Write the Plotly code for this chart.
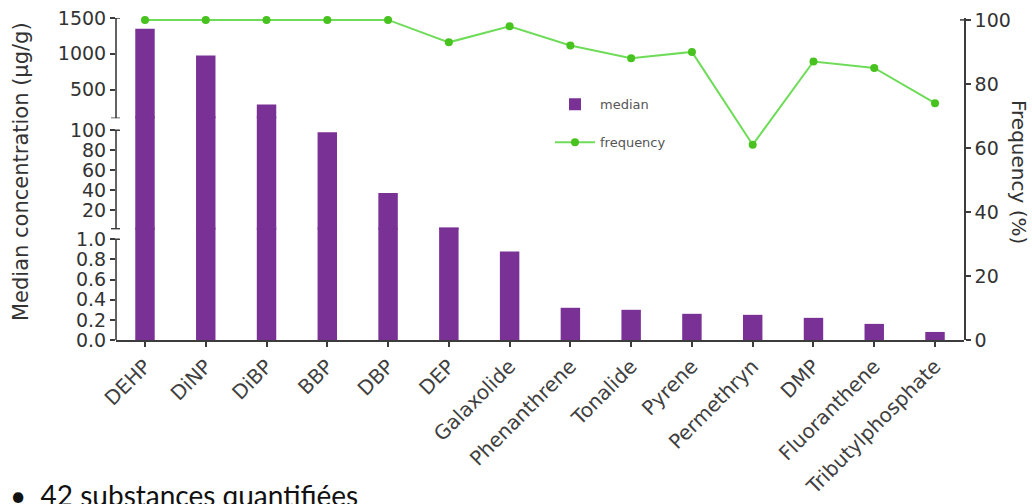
import plotly.graph_objects as go

# ---- data ----
categories = ["DEHP", "DiNP", "DiBP", "BBP", "DBP", "DEP", "Galaxolide",
              "Phenanthrene", "Tonalide", "Pyrene", "Permethryn", "DMP",
              "Fluoranthene", "Tributylphosphate"]
median = [1350, 975, 290, 98, 37, 2.3, 0.88, 0.32, 0.30, 0.26, 0.25, 0.22, 0.16, 0.08]
frequency = [100, 100, 100, 100, 100, 93, 98, 92, 88, 90, 61, 87, 85, 74]

top_ticks = [500, 1000, 1500]
mid_ticks = [20, 40, 60, 80, 100]
low_ticks = [0.0, 0.2, 0.4, 0.6, 0.8, 1.0]
freq_ticks = [0, 20, 40, 60, 80, 100]

# segment bounds of the broken axis
seg_low = (0, 1.0)
seg_mid = (1, 100)
seg_top = (100, 1500)

# ---- layout geometry (pixels) ----
W, H = 1032, 504
PL, PR, PT, PB = 116, 964, 17.5, 340.5
PH = PB - PT
PW = PR - PL

def py(p):
    return (PB - p) / PH

def px(p):
    return (p - PL) / PW

# low segment: 0 -> 340.5px, 1.0 -> 239.5px ; overlaps 2px into the middle one
low_top_px = 228
low_range_top = (PB - low_top_px) / 101.0
# middle segment: 0 -> 230px, 1 px per unit ; overlaps 2px into the top one
mid_bot_px, mid_top_px = 230, 116
mid_range_top = 230 - mid_top_px
# top segment: 100 -> 118px, 1500 -> 17.5px
top_bot_px = 118

PURPLE = "#7A3196"
GREEN_LINE = "#6EDC58"
GREEN_MARK = "#47C21F"
AX = "#3c3c3c"
TXT = "#333333"
FONT = "DejaVu Sans"

fig = go.Figure()

fig.add_trace(go.Bar(x=categories, y=median, name="median", marker_color=PURPLE,
                     width=0.32, yaxis="y", legendgroup="a"))
fig.add_trace(go.Bar(x=categories, y=[v if v > seg_mid[0] else None for v in median],
                     marker_color=PURPLE, width=0.32, yaxis="y2", showlegend=False))
fig.add_trace(go.Bar(x=categories, y=[v if v > seg_top[0] else None for v in median],
                     marker_color=PURPLE, width=0.32, yaxis="y3", showlegend=False))
fig.add_trace(go.Scatter(x=categories, y=frequency, name="frequency", mode="lines+markers",
                         line=dict(color=GREEN_LINE, width=2),
                         marker=dict(color=GREEN_MARK, size=8),
                         yaxis="y4", cliponaxis=False, legendgroup="b"))

yax_common = dict(anchor="x", showgrid=False, zeroline=False, showline=False,
                  ticks="outside", ticklen=5, tickwidth=1.5, tickcolor=AX,
                  automargin=False,
                  tickfont=dict(family=FONT, size=19, color=TXT))

fig.update_layout(
    width=W, height=H,
    template="none",
    paper_bgcolor="white", plot_bgcolor="rgba(0,0,0,0)",
    margin=dict(l=PL, r=W - PR, t=PT, b=H - PB, autoexpand=False),
    barmode="overlay",
    xaxis=dict(type="category", range=[-0.477, 13.477], anchor="y",
               showline=True, linecolor=AX, linewidth=1.6, showgrid=False,
               ticks="outside", ticklen=5, tickwidth=1.5, tickcolor=AX,
               tickangle=-45, tickfont=dict(family=FONT, size=20, color="#404040"),
               automargin=False),
    yaxis=dict(domain=[0, py(low_top_px)], range=[0, low_range_top],
               tickvals=low_ticks, tickformat=".1f", **yax_common),
    yaxis2=dict(domain=[py(mid_bot_px), py(mid_top_px)], range=[0, mid_range_top],
                tickvals=mid_ticks, **yax_common),
    yaxis3=dict(domain=[py(top_bot_px), 1], range=[100, 1500],
                tickvals=top_ticks, **yax_common),
    yaxis4=dict(domain=[0, 1], range=[0, 100.6], anchor="x", side="right",
                showgrid=False, zeroline=False, showline=True, linecolor=AX, linewidth=1.6,
                ticks="outside", ticklen=5, tickwidth=1.5, tickcolor=AX,
                tickvals=freq_ticks, automargin=False,
                tickfont=dict(family=FONT, size=19, color=TXT)),
    legend=dict(x=px(550), y=py(89), xanchor="left", yanchor="top",
                bgcolor="rgba(0,0,0,0)", font=dict(family=FONT, size=13, color="#555555"),
                traceorder="grouped", tracegroupgap=18, itemwidth=40),
    showlegend=True,
)

# broken left axis line segments
shapes = []
for yref, (a, b) in (("y", seg_low), ("y2", seg_mid), ("y3", seg_top)):
    shapes.append(dict(type="line", xref="paper", yref=yref, x0=0, x1=0, y0=a, y1=b,
                       line=dict(color=AX, width=1.6)))
    shapes.append(dict(type="line", xref="paper", yref=yref, x0=-5 / PW, x1=4 / PW, y0=b, y1=b,
                       line=dict(color=AX, width=1.5)))
    if a != 0:
        shapes.append(dict(type="line", xref="paper", yref=yref, x0=-5 / PW, x1=4 / PW, y0=a, y1=a,
                           line=dict(color=AX, width=1.5)))
# hook at top of right axis
shapes.append(dict(type="line", xref="paper", yref="y4", x0=1 - 4 / PW, x1=1, y0=100, y1=100,
                   line=dict(color=AX, width=1.5)))
fig.update_layout(shapes=shapes)

fig.add_annotation(text="Median concentration (µg/g)", xref="paper", yref="paper",
                   x=px(21), y=py(172), textangle=-90, showarrow=False,
                   xanchor="center", yanchor="middle",
                   font=dict(family=FONT, size=21, color=TXT))
fig.add_annotation(text="Frequency (%)", xref="paper", yref="paper",
                   x=px(1019), y=py(172), textangle=90, showarrow=False,
                   xanchor="center", yanchor="middle",
                   font=dict(family=FONT, size=20, color=TXT))
fig.add_annotation(text="•  42 substances quantifiées", xref="paper", yref="paper",
                   x=px(8), y=py(477), xanchor="left", yanchor="top", showarrow=False,
                   font=dict(family="Lato", size=28, color="#111111"))

fig.write_html("out.html")
